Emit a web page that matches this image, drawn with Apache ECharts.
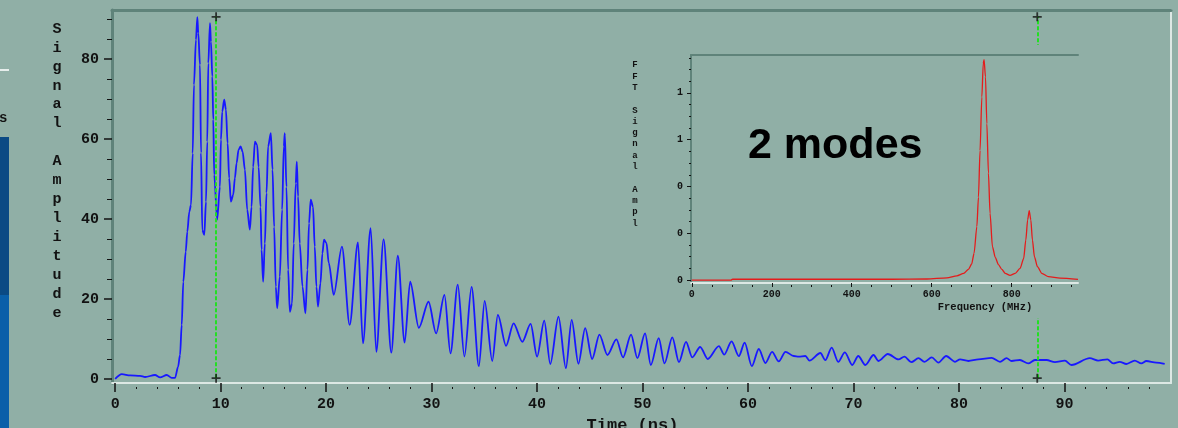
<!DOCTYPE html>
<html>
<head>
<meta charset="utf-8">
<script src="https://cdn.jsdelivr.net/npm/echarts@6/dist/echarts.min.js"></script>
<style>
  html, body { margin: 0; padding: 0; background: #90afa6; }
  #chart { width: 1178px; height: 428px; }
</style>
</head>
<body>
<div id="chart"></div>
<script>
// Time-domain signal (ns, amplitude)
const timeNs = [0.0,0.63,1.42,2.37,2.84,3.78,4.26,4.89,5.36,5.68,
  5.96,6.15,6.31,6.46,6.69,6.84,7.03,7.19,7.35,7.47,
  7.66,7.79,7.88,8.04,8.14,8.26,8.45,8.61,8.73,8.83,
  8.99,9.08,9.21,9.30,9.39,9.67,9.93,10.03,10.15,10.34,
  10.50,10.66,10.81,10.97,11.19,11.35,11.51,11.70,11.89,12.08,
  12.30,12.52,12.77,12.93,13.08,13.25,13.46,13.60,13.78,13.88,
  14.03,14.19,14.35,14.50,14.76,14.92,15.07,15.23,15.36,15.61,
  15.83,15.99,16.08,16.24,16.40,16.56,16.77,16.93,17.12,17.22,
  17.34,17.50,17.76,18.04,18.23,18.38,18.54,18.76,18.92,19.08,
  19.23,19.46,19.65,19.80,20.03,20.25,20.72,21.50,22.23,23.02,
  23.49,24.22,24.76,25.45,26.18,26.80,27.44,27.97,28.79,29.71,
  30.43,31.22,31.79,32.48,33.11,33.79,34.48,35.03,35.75,36.28,
  37.06,37.77,38.60,39.39,40.00,40.68,41.25,42.03,42.73,43.28,
  43.92,44.56,45.22,45.91,46.67,47.52,48.15,48.91,49.51,50.24,
  50.78,51.53,52.08,52.82,53.45,54.12,54.71,55.46,56.18,57.24,
  57.74,58.44,59.13,59.68,60.36,61.02,61.65,62.28,62.91,63.55,
  64.33,64.81,65.44,65.82,66.86,67.33,67.93,68.55,69.18,69.88,
  70.45,71.12,71.90,72.37,73.25,74.27,74.83,75.47,76.16,76.73,
  77.42,78.05,78.78,79.63,80.10,80.89,81.84,83.09,83.89,84.51,
  84.99,85.78,86.57,87.20,88.30,89.09,90.04,90.66,92.40,93.19,
  94.07,94.61,95.24,95.87,96.66,97.29,97.76,98.70,99.50];
const amplitude = [0,1.2,0.9,0.8,0.5,1.0,0.4,1.0,0.3,0.3,
  3,6,13.5,24.3,31.8,36.8,41.8,43.5,56.4,73.5,
  84.8,90.4,86.4,78.5,56.5,37.2,36,44.3,59.3,78.9,
  88.9,84.3,75.6,64.8,51,39.8,48,59.8,66.8,69.8,
  67.3,58.9,50.2,44.3,46,50.2,53.9,57.3,58.1,56.8,
  52.3,42.3,37.3,43,53,59.3,58.5,53,43,32.3,
  24.3,33.9,46.5,58.1,61.4,52.3,38,23.1,17.7,25.6,
  42.3,58.1,61.4,48,27.3,16.8,18.9,33.9,48.9,54.3,
  45.6,33.9,23.1,16.4,27.3,38.9,44.8,43,33.1,23.1,
  18.1,23.9,31.4,34.8,34,29,21,33.1,13.5,34.1,
  8.9,37.7,6.8,34.9,6.6,30.8,9.1,24.3,12.8,19.3,
  11.4,21,6.4,23.6,5.6,23,3.2,19.5,4.5,16,
  8.3,13.9,9.3,13.75,5.6,14.6,3.75,15.6,2.7,14.75,
  3.8,12.7,5.0,11.1,6,9.9,5.4,11.1,5.2,11.4,
  3.5,10.2,3.9,10.4,4.2,9.3,5.4,8.0,5.0,8.2,
  6.1,9.4,5.7,9.1,3.2,7.5,4.0,6.8,4.4,6.8,
  5.75,5.6,5.75,4.6,6.5,4.7,7.85,4.3,6.65,3.5,
  5.75,3.5,6,4.5,6.25,4.9,5.6,4.2,5.2,4.3,
  5.4,4.1,5.75,4.3,4.9,4.5,4.9,5.3,4.3,5.2,
  4.5,4.75,3.9,4.75,4.75,4.2,4.6,3.5,5.2,4.6,
  4.9,3.9,4.3,3.75,4.6,3.9,4.5,4.1,3.75];

// FFT spectrum (MHz, amplitude)
const freqMHz = [0,98,102,300,500,588,638,663,680,692,700,706,713,717,721,725.5,729,731,
  734.6,738,742,746,752,759,767,775.5,784,796,809,821,830,835.5,840,844,848,852,857,
  864.5,875.5,892,921,966];
const fftAmplitude = [0,0,0.006,0.006,0.006,0.008,0.017,0.032,0.05,0.08,0.12,0.2,0.4,0.62,0.97,1.37,1.62,1.65,
  1.52,1.17,0.80,0.5,0.25,0.17,0.115,0.08,0.05,0.035,0.05,0.087,0.16,0.3,0.45,0.52,0.45,0.3,0.175,
  0.1,0.05,0.025,0.015,0.005];

// Cursor positions (ns) and their vertical span
const cursorTimes = [9.57, 87.42];
const cursorSpan = [0.2, 90.5];

// Ticks
const timeMajorTicks = [0,10,20,30,40,50,60,70,80,90];
const timeMinorTicks = [2,4,6,8,12,14,16,18,22,24,26,28,32,34,36,38,42,44,46,48,
  52,54,56,58,62,64,66,68,72,74,76,78,82,84,86,88,92,94,96,98];
const ampMajorTicks = [0,20,40,60,80];
const ampMinorTicks = [5,10,15,25,30,35,45,50,55,65,70,75,85,90];
const freqMajorTicks = [0,200,400,600,800];
const freqMinorTicks = [50,100,150,250,300,350,450,500,550,650,700,750,850,900,950];
const fftMajorTicks = [0,0.35,0.7,1.05,1.4];
const fftMinorTicks = [0.0875,0.175,0.2625,0.4375,0.525,0.6125,0.7875,0.875,0.9625,
  1.1375,1.225,1.3125,1.4875,1.575,1.6625];

const BG = '#90afa6';
const DARK_EDGE = '#5f837a';
const LIGHT_EDGE = '#dde8e4';
const INK = '#121212';
const MONO = '"Liberation Mono", "DejaVu Sans Mono", monospace';

const chart = echarts.init(document.getElementById('chart'), null, { renderer: 'canvas' });

const tickLabelMain = { fontFamily: MONO, fontWeight: 'bold', fontSize: 15, color: INK };
const tickLabelInset = { fontFamily: MONO, fontWeight: 'bold', fontSize: 10, color: INK };

function edgeLine(color, width) {
  return { show: true, onZero: false, lineStyle: { color: color, width: width } };
}

function minorAxis(base, values, len, extra) {
  return Object.assign({}, base, {
    axisLine: { show: false, onZero: false },
    axisLabel: { show: false },
    splitLine: { show: false },
    axisTick: { show: true, customValues: values, length: len, lineStyle: { color: INK, width: 1 } }
  }, extra || {});
}

function frameAxis(base, position, color, width) {
  return Object.assign({}, base, {
    position: position,
    axisLine: edgeLine(color, width),
    axisTick: { show: false }, axisLabel: { show: false }, splitLine: { show: false }
  });
}

const mainX = { type: 'value', gridIndex: 0, min: -0.3, max: 100.1 };
const mainY = { type: 'value', gridIndex: 0, min: -1, max: 92.2 };
const insetX = { type: 'value', gridIndex: 1, min: -2, max: 966, z: 12 };
const insetY = { type: 'value', gridIndex: 1, min: -0.022, max: 1.684, z: 12 };

const option = {
  backgroundColor: BG,
  animation: false,
  grid: [
    { left: 112, right: 7, top: 10, bottom: 45, outerBoundsMode: 'none', containLabel: false },
    { left: 691, right: 100, top: 55, bottom: 145, outerBoundsMode: 'none', containLabel: false }
  ],
  xAxis: [
    Object.assign({}, mainX, {
      position: 'bottom',
      axisLine: edgeLine(LIGHT_EDGE, 2),
      axisTick: { show: true, customValues: timeMajorTicks, length: 9, lineStyle: { color: INK, width: 1.5 } },
      axisLabel: Object.assign({ customValues: timeMajorTicks, margin: 14 }, tickLabelMain),
      splitLine: { show: false },
      name: 'Time (ns)',
      nameLocation: 'middle',
      nameGap: 33,
      nameTextStyle: { fontFamily: MONO, fontWeight: 'bold', fontSize: 17, color: INK, padding: [0, 18, 0, 0] }
    }),
    minorAxis(mainX, timeMinorTicks, 2, { position: 'bottom', offset: 4 }),
    frameAxis(mainX, 'top', DARK_EDGE, 3),
    Object.assign({}, insetX, {
      position: 'bottom',
      axisLine: edgeLine(LIGHT_EDGE, 2),
      axisTick: { show: true, customValues: freqMajorTicks, length: 4, lineStyle: { color: INK, width: 1 } },
      axisLabel: Object.assign({ customValues: freqMajorTicks, margin: 6 }, tickLabelInset),
      splitLine: { show: false }
    }),
    minorAxis(insetX, freqMinorTicks, 2, { position: 'bottom', offset: 2 }),
    frameAxis(insetX, 'top', DARK_EDGE, 2)
  ],
  yAxis: [
    Object.assign({}, mainY, {
      position: 'left',
      axisLine: edgeLine(DARK_EDGE, 3),
      axisTick: { show: true, customValues: ampMajorTicks, length: 8, lineStyle: { color: INK, width: 1.5 } },
      axisLabel: Object.assign({ customValues: ampMajorTicks, margin: 13 }, tickLabelMain),
      splitLine: { show: false }
    }),
    minorAxis(mainY, ampMinorTicks, 5, { position: 'left' }),
    frameAxis(mainY, 'right', LIGHT_EDGE, 2),
    Object.assign({}, insetY, {
      position: 'left',
      axisLine: edgeLine(DARK_EDGE, 2),
      axisTick: { show: true, customValues: fftMajorTicks, length: 4, lineStyle: { color: INK, width: 1 } },
      axisLabel: Object.assign({
        customValues: fftMajorTicks, margin: 8,
        formatter: v => String(Math.floor(v))
      }, tickLabelInset),
      splitLine: { show: false }
    }),
    minorAxis(insetY, fftMinorTicks, 2, { position: 'left' })
  ],
  graphic: [
    // slide edge on the far left
    { type: 'rect', shape: { x: 0, y: 137, width: 9, height: 158 }, style: { fill: '#0b4a84' } },
    { type: 'rect', shape: { x: 0, y: 295, width: 9, height: 133 }, style: { fill: '#0a5fa9' } },
    { type: 'line', shape: { x1: 0, y1: 70, x2: 9, y2: 70 }, style: { stroke: '#e6eeec', lineWidth: 2 } },
    { type: 'text', style: { x: -1, y: 118, text: 's', font: 'bold 14px ' + MONO, fill: INK, verticalAlign: 'middle' } },
    // main y-axis title
    { type: 'text', style: {
        x: 57, y: 19.5, text: 'Signal Amplitude'.split('').join('\n'),
        font: 'bold 15px ' + MONO, fill: INK, align: 'center', verticalAlign: 'top', lineHeight: 18.93 } },
    // inset panel background (covers the cursor line behind it)
    { type: 'rect', z: 9, shape: { x: 612, y: 45, width: 468, height: 273 }, style: { fill: BG } },
    { type: 'text', z: 13, style: {
        x: 635, y: 59.4, text: 'FFT Signal Ampl'.split('').join('\n'),
        font: 'bold 9px ' + MONO, fill: INK, align: 'center', verticalAlign: 'top', lineHeight: 11.3 } },
    { type: 'text', z: 13, style: {
        x: 985, y: 307, text: 'Frequency (MHz)',
        font: 'bold 10.5px ' + MONO, fill: INK, align: 'center', verticalAlign: 'middle' } },
    { type: 'text', z: 13, style: {
        x: 748, y: 146, text: '2 modes',
        font: 'bold 43px "Liberation Sans", Arial, sans-serif', fill: '#000', align: 'left', verticalAlign: 'middle' } }
  ],
  series: [
    {
      type: 'line', xAxisIndex: 0, yAxisIndex: 0, z: 2,
      data: timeNs.map((t, i) => [t, amplitude[i]]),
      showSymbol: false, smooth: 0.3, smoothMonotone: 'x',
      lineStyle: { color: '#1818ff', width: 1.8 },
      markLine: {
        silent: true, symbol: ['none', 'none'], z: 3,
        label: { show: false },
        lineStyle: { color: '#22e022', width: 2, type: [4, 2] },
        data: cursorTimes.map(t => [{ coord: [t, cursorSpan[0]] }, { coord: [t, cursorSpan[1]] }])
      }
    },
    {
      type: 'scatter', xAxisIndex: 0, yAxisIndex: 0, z: 4, silent: true,
      symbol: 'path://M3.6,0 H5.4 V9 H3.6 Z M0,3.6 H9 V5.4 H0 Z',
      symbolSize: 9,
      itemStyle: { color: INK },
      data: cursorTimes.flatMap(t => cursorSpan.map(v => [t, v]))
    },
    {
      type: 'line', xAxisIndex: 3, yAxisIndex: 3, z: 12,
      data: freqMHz.map((f, i) => [f, fftAmplitude[i]]),
      showSymbol: false, smooth: 0.25, smoothMonotone: 'x',
      lineStyle: { color: '#e41c1c', width: 1.3 }
    }
  ]
};

chart.setOption(option);
</script>
</body>
</html>
